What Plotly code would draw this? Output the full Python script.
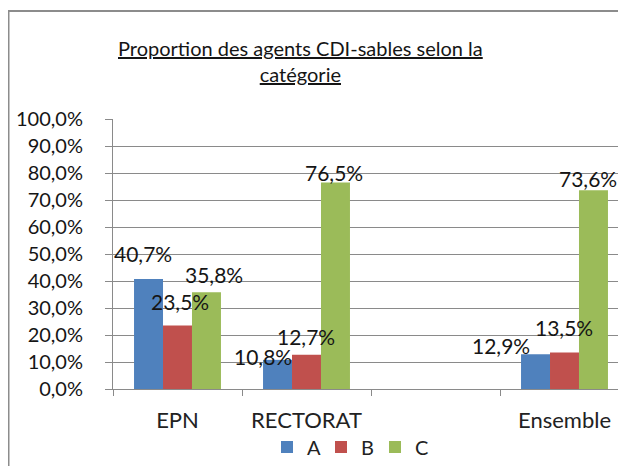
import plotly.graph_objects as go

# ---------------- data ----------------
categories = ["EPN", "RECTORAT", " ", "Ensemble"]
series_names = ["A", "B", "C"]
values_A = [40.7, 10.8, None, 12.9]
values_B = [23.5, 12.7, None, 13.5]
values_C = [35.8, 76.5, None, 73.6]
y_tick_values = [0, 10, 20, 30, 40, 50, 60, 70, 80, 90, 100]
y_tick_labels = ["0,0%", "10,0%", "20,0%", "30,0%", "40,0%", "50,0%",
                 "60,0%", "70,0%", "80,0%", "90,0%", "100,0%"]
title_text = "Proportion des agents CDI-sables selon la<br>catégorie"

# ---------------- styles ----------------
colors = ["#4F81BD", "#C0504D", "#9BBB59"]
# hand nudges of the data labels (px: right, up) from each bar's top centre
nudges = [
    [(-6, 26), (-15, 3), None, (-35, 9)],
    [(2, 24), (-1, 18), None, (-1, 25)],
    [(8, 18), (-1, 10), None, (-5, 12)],
]
FONT = "Lato"
TXT = "#151515"
# the page body keeps its default 8 px margin, so the figure is 8 px smaller
W, H = 618, 458
ML, MR, MT, MB = 105, 0, 111, 77
cat_px = 129.0
bargap = 0.326
plot_w = W - ML - MR
ph = H - MT - MB
x_range = [-0.5, -0.5 + plot_w / cat_px]
bar_px = cat_px * (1 - bargap) / 3
grid_col = "#8a8a8a"


def fmt(v):
    return f"{v:.1f}".replace(".", ",") + "%"


def px_x(p):
    return (p - ML) / plot_w


def px_y(p):
    return (H - MB - p) / ph


series_values = [values_A, values_B, values_C]

fig = go.Figure()
for name, vals, col in zip(series_names, series_values, colors):
    fig.add_trace(go.Bar(x=categories, y=vals, name=name, marker_color=col,
                         marker_line_width=0))

annotations = []
for i, vals in enumerate(series_values):
    for j, v in enumerate(vals):
        if v is None:
            continue
        dx, dy = nudges[i][j]
        annotations.append(dict(
            x=categories[j], y=v, xref="x", yref="y", text=fmt(v),
            showarrow=False, xanchor="center", yanchor="middle",
            xshift=(i - 1) * bar_px + dx, yshift=dy,
            font=dict(family=FONT, size=21, color=TXT)))

annotations.append(dict(
    x=px_x(292), y=px_y(53), xref="paper", yref="paper", text=title_text,
    showarrow=False, xanchor="center", yanchor="middle", align="center",
    font=dict(family=FONT, size=20, color=TXT, lineposition="under")))

shapes = [dict(type="rect", xref="paper", yref="paper",
               x0=px_x(0.5), x1=px_x(W + 40), y0=px_y(H + 40), y1=px_y(3),
               line=dict(color="#8c8c8c", width=2), fillcolor="rgba(0,0,0,0)")]

fig.update_layout(
    width=W, height=H,
    margin=dict(l=ML, r=MR, t=MT, b=MB, autoexpand=False),
    paper_bgcolor="white", plot_bgcolor="white",
    barmode="group", bargap=bargap, bargroupgap=0,
    xaxis=dict(type="category", categoryorder="array", categoryarray=categories,
               range=x_range, showline=True, linecolor=grid_col, linewidth=1,
               ticks="outside", tickson="boundaries", ticklen=6, tickcolor=grid_col,
               showgrid=False, ticklabelstandoff=12,
               tickfont=dict(family=FONT, size=22, color="#222222")),
    yaxis=dict(range=[0, 100], tickmode="array", tickvals=y_tick_values,
               ticktext=y_tick_labels, showline=True, linecolor=grid_col,
               linewidth=1, ticks="outside", ticklen=7, tickcolor=grid_col,
               showgrid=True, gridcolor=grid_col, gridwidth=1,
               zeroline=False, ticklabelstandoff=18,
               tickfont=dict(family=FONT, size=20, color=TXT)),
    legend=dict(orientation="h", x=px_x(259), xanchor="left",
                y=px_y(439), yanchor="middle", entrywidth=9,
                font=dict(family=FONT, size=20, color="#222222"),
                bgcolor="rgba(0,0,0,0)"),
    annotations=annotations, shapes=shapes,
    showlegend=True,
)

fig.write_html("out.html")
